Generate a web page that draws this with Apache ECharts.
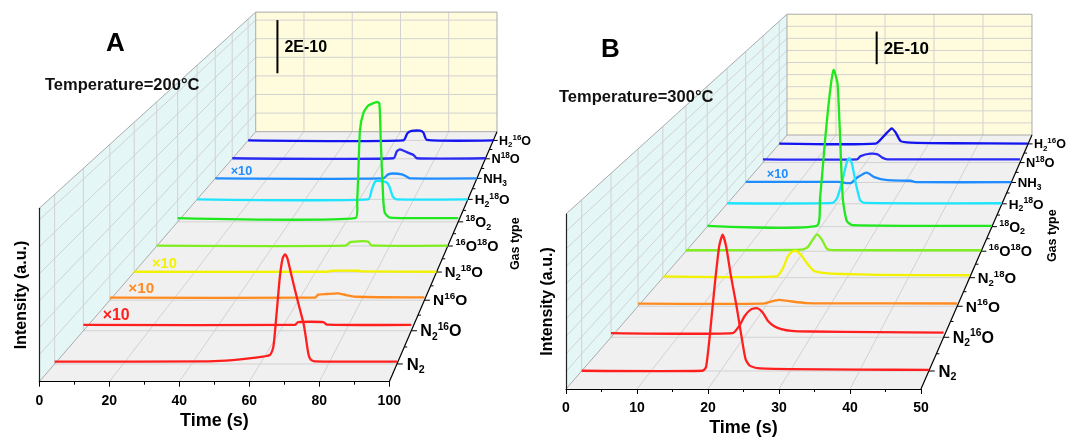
<!DOCTYPE html>
<html>
<head>
<meta charset="utf-8">
<script src="https://cdn.jsdelivr.net/npm/echarts@6/dist/echarts.min.js"></script>
<style>
  html, body { margin: 0; background: #fff; }
  #chart { width: 1067px; height: 438px; }
</style>
</head>
<body>
<div id="chart"></div>
<script>
// gas types, front row first
const gasLabels = [
  '{m|N}{sub|2}',
  '{m|N}{sub|2}{sup|16}{m|O}',
  '{m|N}{sup|16}{m|O}',
  '{m|N}{sub|2}{sup|18}{m|O}',
  '{sup|16}{m|O}{sup|18}{m|O}',
  '{sup|18}{m|O}{sub|2}',
  '{m|H}{sub|2}{sup|18}{m|O}',
  '{m|NH}{sub|3}',
  '{m|N}{sup|18}{m|O}',
  '{m|H}{sub|2}{sup|16}{m|O}'
]
const gasColors = [
  '#ff1f1f', '#ff1f1f', '#ff8a1f', '#f2f200', '#80ee20',
  '#1fe81f', '#1fe4ff', '#1f8cff', '#2a2af5', '#1414f0'
]

// panel A, 200 °C: [time (s), intensity (1E-10)]
const a_N2 = [[0, 0.06], [45, 0.07], [52, 0.1], [58, 0.16], [62.9, 0.24], [63.9, 0.46], [64.8, 1.3], [65.8, 2.32], [66.6, 2.8], [67.3, 2.91], [68, 2.8], [68.8, 2.5], [70.2, 1.97], [71.7, 1.43], [72.7, 1.08], [73.2, 0.82], [74.1, 0.28], [74.8, 0.12], [76, 0.07], [100, 0.06]]
const a_N216O = [[0, 0.16], [64.5, 0.16], [65.5, 0.24], [73.2, 0.24], [74.3, 0.17], [100, 0.16]]
const a_N16O = [[0, 0.075], [65.3, 0.075], [66.2, 0.16], [69, 0.18], [72.5, 0.2], [75, 0.15], [78, 0.1], [100, 0.08]]
const a_N218O = [[0, 0.01], [64, 0.01], [65.5, 0.04], [74, 0.04], [75.5, 0.02], [100, 0.01]]
const a_16O18O = [[0, 0.01], [64.8, 0.01], [66.5, 0.12], [68, 0.14], [71, 0.15], [72.7, 0.13], [73.8, 0.02], [100, 0.01]]
const a_18O2 = [[0, 0.12], [63.3, 0.12], [64, 0.7], [64.4, 1.58], [65, 2.98], [66.2, 3.52], [67.9, 3.76], [70.9, 3.88], [71.9, 3.84], [72.4, 2.65], [73.3, 0.71], [73.9, 0.28], [75.7, 0.14], [100, 0.12]]
const a_H218O = [[0, 0], [63.2, 0], [64.5, 0.32], [65.7, 0.59], [66.9, 0.62], [70, 0.57], [71, 0.43], [72.3, 0.09], [73.7, 0], [100, 0]]
const a_NH3 = [[0, 0], [64.2, 0], [66.1, 0.14], [68, 0.17], [71.3, 0.14], [73.2, 0.06], [74.4, 0], [100, 0]]
const a_N18O = [[0, 0.02], [63.7, 0.02], [65, 0.26], [66.3, 0.34], [68.9, 0.24], [71.6, 0.14], [72.9, 0.02], [100, 0.02]]
const a_H216O = [[0, 0], [63.3, 0], [65, 0.27], [66.7, 0.35], [70.1, 0.36], [71.5, 0.29], [72.9, 0.02], [100, 0]]

// panel B, 300 °C
const b_N2 = [[0, 0.01], [17.4, 0.01], [17.9, 0.16], [18.4, 1.38], [19.1, 3.53], [19.8, 5.39], [20.3, 5.89], [20.8, 5.39], [21.5, 4.1], [22.3, 2.81], [23, 1.52], [23.6, 0.52], [24.2, 0.23], [25.4, 0.12], [30, 0.08], [40, 0.06], [50, 0.05]]
const b_N216O = [[0, 0.19], [18.3, 0.19], [19.3, 0.52], [20.1, 0.96], [21.1, 1.27], [22, 1.31], [22.8, 1.12], [23.6, 0.74], [24.6, 0.49], [25.6, 0.37], [27.1, 0.29], [30, 0.26], [40, 0.23], [50, 0.21]]
const b_N16O = [[0, 0.12], [19.5, 0.12], [20.8, 0.22], [22.1, 0.3], [23.5, 0.25], [26.4, 0.15], [30, 0.14], [50, 0.13]]
const b_N218O = [[0, 0.06], [18.5, 0.06], [19.5, 0.42], [20.3, 1.0], [21, 1.26], [21.7, 1.32], [22.5, 1.12], [23.4, 0.74], [24.6, 0.34], [26.5, 0.22], [29.1, 0.18], [35, 0.14], [50, 0.12]]
const b_16O18O = [[0, 0.05], [19.6, 0.08], [20.6, 0.2], [21.4, 0.55], [22.2, 0.86], [23, 0.6], [23.9, 0.12], [25, 0.06], [50, 0.05]]
const b_18O2 = [[0, 0.04], [19.2, 0.04], [19.8, 1.44], [20.7, 4.59], [21.6, 7.21], [22.2, 8.26], [22.9, 7.5], [23.8, 1.5], [24.5, 0.3], [25.5, 0.08], [50, 0.04]]
const b_H218O = [[0, 0.03], [19.2, 0.05], [20, 0.3], [21, 1.3], [21.8, 2.3], [22.2, 2.5], [22.7, 2.2], [23.5, 1.0], [24.2, 0.2], [25, 0.05], [50, 0.03]]
const b_NH3 = [[0, 0.03], [17.5, 0.03], [19.3, -0.04], [20, 0], [21, 0.28], [22.8, 0.56], [24.2, 0.3], [26.7, 0.13], [31, 0.1], [32, 0.02], [50, 0.02]]
const b_N18O = [[0, 0.19], [18.3, 0.19], [19, 0.38], [20.9, 0.52], [22.3, 0.48], [23.2, 0.29], [24.2, 0.19], [50, 0.19]]
const b_H216O = [[0, 0.02], [19.4, 0.02], [21, 0.47], [22.6, 0.94], [23.4, 0.68], [24.4, 0.17], [26.4, 0.08], [35, 0.04], [50, 0.02]]

const font = 'Liberation Sans, Arial, sans-serif'
const gridColor = '#d2d2d2'

/* each panel: front plane is an ordinary cartesian grid, depth is projected toward a vanishing point */
const panels = [
  {
    grid: { left: 39.3, top: 208.3, width: 350, height: 173.4 },
    tMax: 100, tStep: 20,
    vMax: 4.5, vStep: 0.7,
    vanish: [696.8, -805],
    depth: 0.4505,
    traces: [a_N2, a_N216O, a_N16O, a_N218O, a_16O18O, a_18O2, a_H218O, a_NH3, a_N18O, a_H216O],
    times10: [1, 2, 3, 7],
    tenAt: 10,
    bar: { t: 9, from: 2.2, to: 4.2, size: 16 },
    gasTitle: [62, 10],
    letter: 'A', letterPos: [106, 31],
    temp: 'Temperature=200°C', tempPos: [45, 77]
  },
  {
    grid: { left: 566, top: 214, width: 355, height: 176 },
    tMax: 50, tStep: 10,
    vMax: 7.4, vStep: 0.74,
    vanish: [713.2, -819.7],
    depth: 0.449,
    traces: [b_N2, b_N216O, b_N16O, b_N218O, b_16O18O, b_18O2, b_H218O, b_NH3, b_N18O, b_H216O],
    times10: [7],
    tenAt: 6,
    bar: { t: 18.3, from: 4.34, to: 6.34, size: 17 },
    gasTitle: [66, -3],
    letter: 'B', letterPos: [601, 37],
    temp: 'Temperature=300°C', tempPos: [559, 89]
  }
]

const depthOf = (i) => (i + 0.5) / gasLabels.length
const scaleOf = (p, d) => 1 / (1 + p.depth * d)

function viewOf(api, p) {
  const o = api.coord([0, 0])
  const vx = o[0] + p.vanish[0]
  const vy = o[1] + p.vanish[1]
  return (t, v, d) => {
    const f = api.coord([t, v])
    const k = scaleOf(p, d)
    return [vx + (f[0] - vx) * k, vy + (f[1] - vy) * k]
  }
}

function seg(a, b, color, w) {
  return {
    type: 'line',
    shape: { x1: a[0], y1: a[1], x2: b[0], y2: b[1] },
    style: { stroke: color, lineWidth: w || 1 }
  }
}

function poly(pts, fill, stroke) {
  return {
    type: 'polygon',
    shape: { points: pts },
    style: { fill: fill, stroke: stroke || null, lineWidth: 1 }
  }
}

function richFor(k) {
  const fs = 1.9 + 15.1 * k
  const small = fs * 0.64
  return {
    m: { fontSize: fs, fontWeight: 'bold', fontFamily: font, lineHeight: fs * 1.25 },
    sub: { fontSize: small, fontWeight: 'bold', fontFamily: font, lineHeight: small, verticalAlign: 'bottom' },
    sup: { fontSize: small, fontWeight: 'bold', fontFamily: font, lineHeight: small, verticalAlign: 'top' }
  }
}

function frameItem(p) {
  return function (params, api) {
    const P = viewOf(api, p)
    const T = p.tMax
    const V = p.vMax
    const n = gasLabels.length
    const kids = []
    // floor
    kids.push(poly([P(0, 0, 0), P(T, 0, 0), P(T, 0, 1), P(0, 0, 1)], '#f0f0f0'))
    for (let t = p.tStep; t < T - 1e-6; t += p.tStep) kids.push(seg(P(t, 0, 0), P(t, 0, 1), gridColor))
    for (let i = 0; i < n; i++) kids.push(seg(P(0, 0, depthOf(i)), P(T, 0, depthOf(i)), gridColor))
    // side wall
    kids.push(poly([P(0, 0, 0), P(0, V, 0), P(0, V, 1), P(0, 0, 1)], '#e5f6f6'))
    for (let v = p.vStep; v < V - 1e-6; v += p.vStep) kids.push(seg(P(0, v, 0), P(0, v, 1), gridColor))
    for (let i = 0; i < n; i++) kids.push(seg(P(0, 0, depthOf(i)), P(0, V, depthOf(i)), gridColor))
    // back wall
    kids.push(poly([P(0, 0, 1), P(T, 0, 1), P(T, V, 1), P(0, V, 1)], '#fefcdc'))
    for (let t = p.tStep; t < T - 1e-6; t += p.tStep) kids.push(seg(P(t, 0, 1), P(t, V, 1), gridColor))
    for (let v = p.vStep; v < V - 1e-6; v += p.vStep) kids.push(seg(P(0, v, 1), P(T, v, 1), gridColor))
    // wall edges
    kids.push(seg(P(0, V, 0), P(0, V, 1), '#aaaaaa'))
    kids.push(seg(P(0, 0, 0), P(0, 0, 1), '#aaaaaa'))
    kids.push(seg(P(0, V, 1), P(T, V, 1), '#aaaaaa'))
    kids.push(seg(P(T, 0, 1), P(T, V, 1), '#aaaaaa'))
    kids.push(seg(P(0, 0, 1), P(0, V, 1), '#aaaaaa'))
    kids.push(seg(P(0, 0, 1), P(T, 0, 1), '#aaaaaa'))
    // gas type axis
    kids.push(seg(P(T, 0, 0), P(T, 0, 1), '#000', 1.2))
    for (let i = 1; i < n; i++) {
      const b = P(T, 0, i / n)
      kids.push(seg(b, [b[0] + 3, b[1]], '#000', 1))
    }
    for (let i = 0; i < n; i++) {
      const d = depthOf(i)
      const k = scaleOf(p, d)
      const a = P(T, 0, d)
      kids.push(seg(a, [a[0] + 5 * k + 1, a[1]], '#000', 1))
      kids.push({
        type: 'text',
        x: a[0] + 14 * k - 4,
        y: a[1] + 1,
        style: {
          text: gasLabels[i],
          rich: richFor(k),
          fill: '#000',
          align: 'left',
          verticalAlign: 'middle'
        }
      })
    }
    const g = P(T, 0, 0.5)
    kids.push({
      type: 'text',
      x: g[0] + p.gasTitle[0],
      y: g[1] + p.gasTitle[1],
      rotation: Math.PI / 2,
      style: {
        text: 'Gas type', fill: '#000', fontSize: 12.5, fontWeight: 'bold', fontFamily: font,
        align: 'center', verticalAlign: 'middle'
      }
    })
    // 2E-10 scale bar on the back wall
    const s0 = P(p.bar.t, p.bar.from, 1)
    const s1 = P(p.bar.t, p.bar.to, 1)
    kids.push(seg(s0, s1, '#000', 2))
    kids.push({
      type: 'text',
      x: s0[0] + 7,
      y: (s0[1] + s1[1]) / 2 + 1,
      style: {
        text: '2E-10', fill: '#000', fontSize: p.bar.size, fontWeight: 'bold', fontFamily: font,
        align: 'left', verticalAlign: 'middle'
      }
    })
    return { type: 'group', children: kids }
  }
}

function traceItem(p, i) {
  return function (params, api) {
    if (params.dataIndexInside !== 0) return
    const P = viewOf(api, p)
    const d = depthOf(i)
    const k = scaleOf(p, d)
    const pts = []
    for (let j = 0; j < p.traces[i].length; j++) {
      pts.push(P(api.value(0, j), api.value(1, j), d))
    }
    const kids = [{
      type: 'polyline',
      shape: { points: pts, smooth: 0.2 },
      style: { stroke: gasColors[i], lineWidth: 2.3, fill: null, lineJoin: 'round' }
    }]
    if (p.times10.indexOf(i) >= 0) {
      const a = P(p.tenAt, api.value(1, 0), d)
      kids.push({
        type: 'text',
        x: a[0],
        y: a[1] - 9.5 * k,
        style: {
          text: '\u00d710', fill: gasColors[i], fontSize: 17 * k, fontWeight: 'bold', fontFamily: font,
          align: 'center', verticalAlign: 'middle'
        }
      })
    }
    return { type: 'group', children: kids }
  }
}

const option = {
  animation: false,
  backgroundColor: '#fff',
  textStyle: { fontFamily: font },
  title: [],
  grid: [],
  xAxis: [],
  yAxis: [],
  series: []
}

panels.forEach((p, pi) => {
  option.title.push({
    text: p.letter, left: p.letterPos[0], top: p.letterPos[1], padding: 0,
    textStyle: { fontSize: 26, fontWeight: 'bold', color: '#000', fontFamily: font }
  })
  option.title.push({
    text: p.temp, left: p.tempPos[0], top: p.tempPos[1], padding: 0,
    textStyle: { fontSize: 16.5, fontWeight: 'bold', color: '#111', fontFamily: font }
  })
  option.grid.push(Object.assign({ containLabel: false }, p.grid))
  option.xAxis.push({
    type: 'value', gridIndex: pi, min: 0, max: p.tMax, interval: p.tStep, z: 10,
    axisLine: { lineStyle: { color: '#000', width: 1.2 } },
    axisTick: { length: 5, lineStyle: { color: '#000' } },
    minorTick: { show: true, splitNumber: 2, length: 3, lineStyle: { color: '#000' } },
    axisLabel: { color: '#000', fontSize: 14, fontWeight: 'bold', margin: 12, fontFamily: font },
    splitLine: { show: false },
    name: 'Time (s)', nameLocation: 'middle', nameGap: 30,
    nameTextStyle: { color: '#000', fontSize: 18, fontWeight: 'bold', fontFamily: font }
  })
  option.yAxis.push({
    type: 'value', gridIndex: pi, min: 0, max: p.vMax, z: 10,
    axisLine: { show: true, lineStyle: { color: '#222', width: 1.2 } },
    axisTick: { show: false },
    axisLabel: { show: false },
    splitLine: { show: false },
    name: 'Intensity (a.u.)', nameLocation: 'middle', nameGap: 10,
    nameTextStyle: { color: '#000', fontSize: 16, fontWeight: 'bold', fontFamily: font }
  })
  option.series.push({
    type: 'custom', name: 'frame' + pi, xAxisIndex: pi, yAxisIndex: pi, z: 1,
    encode: { x: 0, y: 1 }, data: [[0, 0]], silent: true,
    renderItem: frameItem(p)
  })
  // back rows first so nearer traces cover them
  for (let i = p.traces.length - 1; i >= 0; i--) {
    option.series.push({
      type: 'custom', name: 'trace' + pi + '_' + i, xAxisIndex: pi, yAxisIndex: pi, z: 3,
      encode: { x: 0, y: 1 }, data: p.traces[i], silent: true,
      renderItem: traceItem(p, i)
    })
  }
})

const chart = echarts.init(document.getElementById('chart'))
chart.setOption(option)
</script>
</body>
</html>
